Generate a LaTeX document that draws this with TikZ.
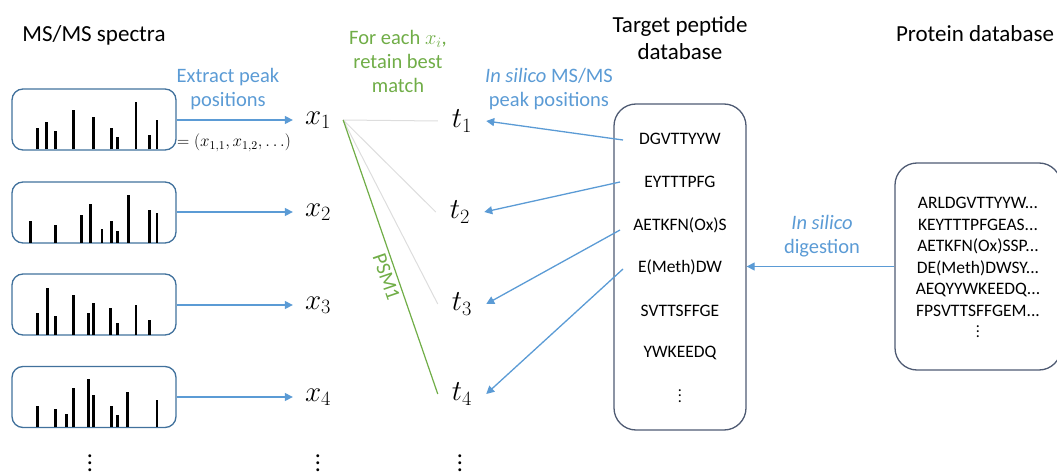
\RequirePackage{fix-cm}
\documentclass[tikz,border=0pt]{standalone}
\usepackage{fontspec}
\setmainfont{Carlito}
\usetikzlibrary{arrows.meta,calc}
\definecolor{specedge}{HTML}{41719C}
\definecolor{arrblue}{HTML}{5B9BD5}
\definecolor{lblblue}{HTML}{5B9BD5}
\definecolor{psmgreen}{HTML}{70AD47}
\definecolor{dbedge}{HTML}{4F5B73}
\definecolor{faint}{HTML}{DDDDDD}
\newcommand{\dotcol}[1]{\vbox{\baselineskip=#1\lineskiplimit=0pt\hbox{.}\hbox{.}\hbox{.}}}
\tikzset{
  specbox/.style={draw=specedge, line width=1.3pt, rounded corners=11pt, minimum width=164pt, minimum height=61pt, inner sep=0pt},
  dbbox/.style={draw=dbedge, line width=1.3pt, rounded corners=22pt, inner sep=0pt},
  peak/.style={line width=2.6pt, black},
  flow/.style={draw=arrblue, line width=1.3pt, -{Triangle[length=8pt,width=8pt]}},
  xnode/.style={inner xsep=12pt, inner ysep=0pt, font=\fontsize{29}{32}\selectfont},
  tnode/.style={inner xsep=14pt, inner ysep=0pt, font=\fontsize{29}{32}\selectfont},
  header/.style={align=center, font=\fontsize{23}{27}\selectfont},
  bluelbl/.style={align=center, text=lblblue, font=\fontsize{20.5}{24.5}\selectfont},
  greenlbl/.style={align=center, text=psmgreen, font=\fontsize{20.5}{24}\selectfont},
  pep/.style={font=\fontsize{17.5}{21}\selectfont, inner sep=0pt},
  faintline/.style={draw=faint, line width=1pt},
  psmline/.style={draw=psmgreen, line width=1.2pt},
  bigdots/.style={anchor=north, inner sep=0pt, font=\fontsize{24}{24}\selectfont},
}
\begin{document}
\begin{tikzpicture}[x=1pt,y=-1pt]
\useasboundingbox (0,0) rectangle (1057,473);

% headers
\node[header] (hspec) at (94,35) {MS/MS spectra};
\node[header] (htarget) at (680,38) {Target peptide\\database};
\node[header] (hprot) at (975,34) {Protein database};

% spectra boxes
\node[specbox] (s1) at (94,119.5) {};
\node[specbox] (s2) at (94,212.5) {};
\node[specbox] (s3) at (94,304.5) {};
\node[specbox] (s4) at (94,397) {};

% peaks box 1
\foreach \px/\h in {37.3/21,46.7/27,55.3/18,73.3/39,93.7/32,111.7/21,117.3/12,136/47,149.3/14,157/29}
  \draw[peak] (\px,149.5) -- (\px,149.5-\h);
% peaks box 2
\foreach \px/\h in {30.7/21.7,55.7/18,81.3/27.3,90.3/38.7,102/13.7,111.3/21.7,117.3/12,128.3/47.7,149.3/32,157/29.3}
  \draw[peak] (\px,242.5) -- (\px,242.5-\h);
% peaks box 3
\foreach \px/\h in {37.3/21.7,47.3/47,55.3/18.3,73.3/39.3,88.3/22,93.7/32,110.3/26.7,117.3/12,136/29.3,149.3/14.3}
  \draw[peak] (\px,334.5) -- (\px,334.5-\h);
% peaks box 4
\foreach \px/\h in {37.3/21.3,55.3/17.7,66.7/13,73.3/39,88.3/48,93.7/32,111.7/21.3,117.3/11.7,127.3/34.7,157/26.7}
  \draw[peak] (\px,427) -- (\px,427-\h);

% x nodes
\node[xnode] (x1) at (318,120) {$x_1$};
\node[xnode] (x2) at (318,212) {$x_2$};
\node[xnode] (x3) at (318,305) {$x_3$};
\node[xnode] (x4) at (318,397) {$x_4$};

\draw[flow] (s1.east |- x1) -- (x1.west);
\draw[flow] (s2.east |- x2) -- (x2.west);
\draw[flow] (s3.east |- x3) -- (x3.west);
\draw[flow] (s4.east |- x4) -- (x4.west);

\node[bluelbl] (lextract) at (228,89) {Extract peak\\positions};
\node[font=\fontsize{17}{19}\selectfont, inner sep=0pt] (vec) at (234,143) {$=(x_{1,1},x_{1,2},\ldots)$};

% t nodes
\node[tnode] (t1) at (462,121) {$t_1$};
\node[tnode] (t2) at (460,212) {$t_2$};
\node[tnode] (t3) at (462,304) {$t_3$};
\node[tnode] (t4) at (462,394) {$t_4$};

\draw[faintline] (x1.east) -- (t1.west);
\draw[faintline] (x1.east) -- (t2.west);
\draw[faintline] (x1.east) -- (t3.west);
\draw[psmline] (x1.east) -- node[sloped, below, pos=0.56, inner sep=3pt, text=psmgreen, font=\fontsize{20.5}{24}\selectfont] (psm) {PSM1} (t4.west);

\node[greenlbl] (lgreen) at (398,61) {For each $x_i$,\\retain best\\match};
\node[bluelbl] (lsilico) at (549,89) {\textit{In silico} MS/MS\\peak positions};

% target db
\node[dbbox, minimum width=132pt, minimum height=326pt] (tdb) at (680,267) {};
\node[pep] (p1) at (680,139) {DGVTTYYW};
\node[pep] (p2) at (680,182) {EYTTTPFG};
\node[pep] (p3) at (680,225) {AETKFN(Ox)S};
\node[pep] (p4) at (680,267) {E(Meth)DW};
\node[pep] (p5) at (680,311) {SVTTSFFGE};
\node[pep] (p6) at (680,353) {YWKEEDQ};
\node[pep, anchor=north, font=\fontsize{16}{16}\selectfont] (p7) at (680,389) {\dotcol{5.5pt}};

\coordinate (a1) at (623,140);
\coordinate (a2) at (620,182);
\coordinate (a3) at (620,230);
\coordinate (a4) at (623,269);
\draw[flow] (a1) -- (t1.east);
\draw[flow] (a2) -- (t2.east);
\draw[flow] (a3) -- (t3.east);
\draw[flow] (a4) -- (t4.east);

% protein db
\node[dbbox, minimum width=166pt, minimum height=207pt] (pdb) at (978,266.5) {};
\node[pep, align=center, font=\fontsize{17.5}{21.5}\selectfont] (prots) at (978,257) {ARLDGVTTYYW...\\KEYTTTPFGEAS...\\AETKFN(Ox)SSP...\\DE(Meth)DWSY...\\AEQYYWKEEDQ...\\FPSVTTSFFGEM...};
\node[pep, anchor=north, font=\fontsize{16}{16}\selectfont] (pdots) at (978,325) {\dotcol{5pt}};

\draw[flow] (pdb.west) -- (pdb.west -| tdb.east);
\node[bluelbl] (ldigest) at (822,236) {\textit{In silico}\\digestion};

% bottom dots
\node[bigdots] (d1) at (90,455) {\dotcol{7pt}};
\node[bigdots] (d2) at (318,455) {\dotcol{7pt}};
\node[bigdots] (d3) at (460,455) {\dotcol{7pt}};
\end{tikzpicture}
\end{document}
